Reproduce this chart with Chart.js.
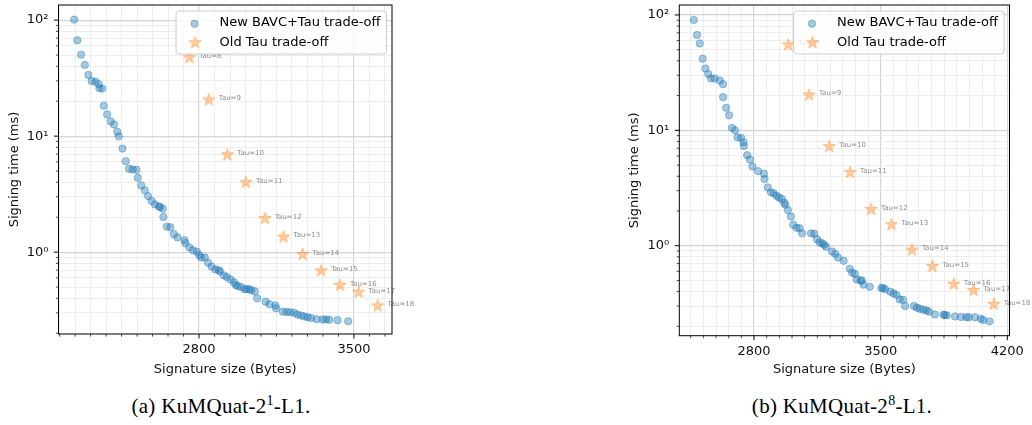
<!DOCTYPE html>
<html>
<head>
<meta charset="utf-8">
<script src="https://cdn.jsdelivr.net/npm/chart.js@4"></script>
<style>
  body { margin: 0; background: #fff; width: 1032px; height: 425px; position: relative; overflow: hidden; }
  .box { position: absolute; top: 0; height: 380px; }
  #boxA { left: 0; width: 420px; }
  #boxB { left: 620px; width: 412px; }
  .cap { position: absolute; top: 396px; width: 300px; text-align: center; line-height: 20px;
         font-family: "Liberation Serif", "DejaVu Serif", serif; font-size: 21px; letter-spacing: 0.3px; color: #000; }
  .cap sup { font-size: 0.66em; line-height: 0; vertical-align: 0.6em; }
</style>
</head>
<body>
<div class="box" id="boxA"><canvas id="chartA"></canvas></div>
<div class="box" id="boxB"><canvas id="chartB"></canvas></div>
<div class="cap" id="capA" style="left:71px"></div>
<div class="cap" id="capB" style="left:692px"></div>
<script>
const seriesNames = ['New BAVC+Tau trade-off', 'Old Tau trade-off'];
const tauLabels = [8, 9, 10, 11, 12, 13, 14, 15, 16, 17, 18];
const xTitle = 'Signature size (Bytes)';
const yTitle = 'Signing time (ms)';
const captionsText = [['(a) KuMQuat-2', '1', '-L1.'], ['(b) KuMQuat-2', '8', '-L1.']];

// panel (a)
const newXA = [2236, 2250, 2267, 2284, 2300, 2315, 2332, 2347, 2350, 2363, 2370, 2385, 2401, 2416, 2431, 2437,
  2454, 2469, 2484, 2500, 2517, 2523, 2539, 2555, 2570, 2586, 2601, 2618, 2624, 2636, 2639, 2654, 2670, 2686,
  2702, 2734, 2738, 2756, 2772, 2790, 2801, 2810, 2826, 2841, 2857, 2874, 2889, 2895, 2912, 2926, 2943, 2958,
  2966, 2975, 2990, 3005, 3015, 3026, 3036, 3052, 3063, 3101, 3118, 3145, 3148, 3179, 3196, 3211, 3229, 3244,
  3261, 3276, 3291, 3306, 3332, 3359, 3374, 3389, 3426, 3474];
const newYA = [101, 67, 50.4, 41.1, 33.7, 29.9, 29.4, 28.1, 25.9, 25.7, 18.3, 15.4, 13.4, 12.6, 10.9, 9.96,
  7.81, 6.08, 5.23, 5.16, 5.13, 4.38, 3.76, 3.41, 3.04, 2.76, 2.58, 2.48, 2.45, 2.37, 2.01, 1.66, 1.64, 1.43,
  1.34, 1.27, 1.20, 1.10, 1.04, 1.01, 0.94, 0.90, 0.90, 0.81, 0.75, 0.71, 0.70, 0.68, 0.63, 0.61, 0.58, 0.55,
  0.52, 0.51, 0.50, 0.48, 0.48, 0.48, 0.47, 0.46, 0.40, 0.374, 0.356, 0.348, 0.328, 0.307, 0.305, 0.304, 0.300, 0.290,
  0.284, 0.279, 0.275, 0.271, 0.264, 0.263, 0.263, 0.261, 0.259, 0.254];
const oldXA = [2756, 2844, 2928, 3012, 3098, 3182, 3268, 3352, 3437, 3521, 3607];
const oldYA = [47.5, 20.5, 6.9, 3.99, 1.95, 1.35, 0.955, 0.69, 0.518, 0.451, 0.344];
const xMajorA = [2800, 3500];

// panel (b)
const newXB = [2467, 2485, 2500, 2516, 2531, 2547, 2562, 2582, 2611, 2629, 2629, 2646, 2662, 2678, 2695, 2709,
  2729, 2742, 2744, 2762, 2777, 2791, 2823, 2855, 2858, 2876, 2894, 2909, 2924, 2938, 2953, 2967, 2973, 2987,
  3004, 3017, 3035, 3052, 3066, 3115, 3133, 3148, 3162, 3177, 3187, 3198, 3231, 3249, 3264, 3295, 3329, 3342,
  3358, 3367, 3389, 3396, 3405, 3440, 3504, 3513, 3524, 3553, 3571, 3587, 3605, 3624, 3635, 3684, 3700, 3717,
  3736, 3753, 3767, 3800, 3847, 3854, 3865, 3911, 3944, 3973, 3987, 4021, 4053, 4067, 4102];
const newYB = [90.6, 67.2, 56.6, 41.8, 34.4, 30.8, 28.2, 28.1, 27.0, 25.1, 19.4, 15.7, 13.5, 10.5, 10.0, 8.7,
  8.6, 7.88, 7.32, 6.09, 5.58, 4.86, 4.43, 4.20, 3.78, 3.20, 2.90, 2.84, 2.71, 2.62, 2.54, 2.36, 2.27, 2.04,
  1.79, 1.52, 1.43, 1.42, 1.28, 1.28, 1.27, 1.14, 1.07, 1.05, 1.02, 0.98, 0.89, 0.85, 0.79, 0.74, 0.63, 0.585,
  0.569, 0.51, 0.50, 0.50, 0.46, 0.44, 0.43, 0.43, 0.42, 0.40, 0.386, 0.375, 0.342, 0.34, 0.30, 0.30, 0.29, 0.284,
  0.279, 0.275, 0.268, 0.254, 0.253, 0.251, 0.249, 0.244, 0.241, 0.240, 0.240, 0.240, 0.233, 0.227, 0.221];
const oldXB = [2989, 3104, 3216, 3331, 3447, 3560, 3673, 3786, 3904, 4013, 4125];
const oldYB = [55.1, 20.2, 7.22, 4.31, 2.06, 1.52, 0.917, 0.66, 0.464, 0.41, 0.31];
const xMajorB = [2800, 3500, 4200];

const yDecades = [1, 10, 100];
const yDecadeLabels = ['10⁰', '10¹', '10²'];
const xMinorStep = 70;

const blueFill = 'rgba(31,119,180,0.4)';
const orangeFill = 'rgba(255,127,14,0.4)';
const FONT = '"DejaVu Sans", sans-serif';

function makeStar(r) {
  const s = Math.ceil(r * 2 + 4);
  const c = document.createElement('canvas');
  c.width = c.height = s;
  const g = c.getContext('2d');
  g.beginPath();
  for (let k = 0; k < 10; k++) {
    const rr = k % 2 ? r * 0.382 : r;
    const a = -Math.PI / 2 + k * Math.PI / 5;
    g.lineTo(s / 2 + rr * Math.cos(a), s / 2 + rr * Math.sin(a));
  }
  g.closePath();
  g.fillStyle = orangeFill;
  g.fill();
  g.lineWidth = 1;
  g.strokeStyle = orangeFill;
  g.stroke();
  return c;
}
const starImg = makeStar(6.5);

const decor = {
  id: 'decor',
  afterDatasetsDraw(chart, args, opts) {
    const {ctx, chartArea: a, scales: {x, y}} = chart;
    ctx.save();
    // tau annotations
    ctx.font = '7px ' + FONT;
    ctx.fillStyle = '#8c8c8c';
    ctx.textAlign = 'left';
    ctx.textBaseline = 'middle';
    opts.oldX.forEach((v, i) => {
      ctx.fillText('Tau=' + tauLabels[i], x.getPixelForValue(v) + 10, y.getPixelForValue(opts.oldY[i]) - 1.5);
    });
    // tick marks
    ctx.strokeStyle = '#000';
    x.ticks.forEach(t => {
      const px = x.getPixelForValue(t.value);
      const major = opts.xMajor.includes(t.value);
      ctx.lineWidth = major ? 1 : 0.7;
      ctx.beginPath();
      ctx.moveTo(px, a.bottom);
      ctx.lineTo(px, a.bottom + (major ? 4.5 : 2.6));
      ctx.stroke();
    });
    y.ticks.forEach(t => {
      const py = y.getPixelForValue(t.value);
      const major = yDecades.includes(t.value);
      ctx.lineWidth = major ? 1 : 0.7;
      ctx.beginPath();
      ctx.moveTo(a.left, py);
      ctx.lineTo(a.left - (major ? 4.5 : 2.6), py);
      ctx.stroke();
    });
    // frame
    ctx.lineWidth = 1;
    ctx.strokeRect(a.left, a.top, a.width, a.height);
    // legend
    ctx.font = '13px ' + FONT;
    const tw = Math.max(...seriesNames.map(s => ctx.measureText(s).width));
    const w = 43.5 + tw + 6, h = 43;
    const lx = a.right - 5.5 - w, ly = a.top + 6;
    ctx.beginPath();
    ctx.roundRect(lx, ly, w, h, 3);
    ctx.fillStyle = 'rgba(255,255,255,0.8)';
    ctx.fill();
    ctx.strokeStyle = '#cccccc';
    ctx.lineWidth = 1;
    ctx.stroke();
    ctx.beginPath();
    ctx.arc(lx + 18.5, ly + 12.7, 3.7, 0, Math.PI * 2);
    ctx.fillStyle = blueFill;
    ctx.fill();
    ctx.strokeStyle = blueFill;
    ctx.stroke();
    ctx.drawImage(starImg, lx + 19 - starImg.width / 2, ly + 31.7 - starImg.height / 2);
    ctx.fillStyle = '#000';
    ctx.textBaseline = 'middle';
    ctx.fillText(seriesNames[0], lx + 43.5, ly + 12);
    ctx.fillText(seriesNames[1], lx + 43.5, ly + 31.3);
    ctx.restore();
  }
};

function buildChart(id, p) {
  const isMajorX = v => p.xMajor.includes(v);
  new Chart(document.getElementById(id), {
    type: 'scatter',
    data: {
      datasets: [
        {
          label: seriesNames[1],
          data: p.oldX.map((v, i) => ({x: v, y: p.oldY[i]})),
          pointStyle: starImg,
          order: 0
        },
        {
          label: seriesNames[0],
          data: p.newX.map((v, i) => ({x: v, y: p.newY[i]})),
          backgroundColor: blueFill,
          borderColor: blueFill,
          borderWidth: 1,
          pointRadius: 3.7,
          order: 1
        }
      ]
    },
    options: {
      responsive: true,
      maintainAspectRatio: false,
      animation: false,
      events: [],
      layout: {padding: {left: 0, right: p.padRight, top: p.padTop, bottom: 0}},
      plugins: {legend: {display: false}, tooltip: {enabled: false}, decor: p},
      scales: {
        x: {
          type: 'linear',
          min: p.xMin, max: p.xMax,
          afterFit: s => { s.height = p.xAxisH; s.paddingLeft = 0; },
          afterBuildTicks: s => {
            const t = [];
            for (let v = Math.ceil(p.xMin / xMinorStep) * xMinorStep; v <= p.xMax; v += xMinorStep) t.push({value: v});
            s.ticks = t;
          },
          grid: {
            drawTicks: false,
            color: c => isMajorX(c.tick.value) ? '#d4d4d4' : '#ebebeb',
            lineWidth: c => isMajorX(c.tick.value) ? 1.2 : 0.9
          },
          border: {display: false},
          ticks: {
            autoSkip: false, maxRotation: 0, padding: 8, color: '#111',
            font: {family: FONT, size: 13},
            callback: v => isMajorX(v) ? String(v) : ''
          },
          title: {display: true, text: xTitle, color: '#111', font: {family: FONT, size: 13}, padding: {top: 0, bottom: 3}}
        },
        y: {
          type: 'logarithmic',
          min: p.yMin, max: p.yMax,
          afterFit: s => { s.width = p.yAxisW; s.paddingTop = 0; s.paddingBottom = 0; },
          afterBuildTicks: s => {
            const t = [];
            for (let e = -1; e <= 2; e++) {
              for (let m = 1; m <= 9; m++) {
                const v = Number((m * Math.pow(10, e)).toPrecision(3));
                if (v >= p.yMin && v <= p.yMax) t.push({value: v});
              }
            }
            s.ticks = t;
          },
          grid: {
            drawTicks: false,
            color: c => yDecades.includes(c.tick.value) ? '#d4d4d4' : '#ebebeb',
            lineWidth: c => yDecades.includes(c.tick.value) ? 1.2 : 0.9
          },
          border: {display: false},
          ticks: {
            autoSkip: false, padding: 10, color: '#111',
            font: {family: FONT, size: 13},
            callback: v => {
              const k = yDecades.indexOf(v);
              return k >= 0 ? yDecadeLabels[k] : '';
            }
          },
          title: {display: true, text: yTitle, color: '#111', font: {family: FONT, size: 13}, padding: {top: 6.5, bottom: 0}}
        }
      }
    },
    plugins: [decor]
  });
}

buildChart('chartA', {
  newX: newXA, newY: newYA, oldX: oldXA, oldY: oldYA, xMajor: xMajorA,
  xMin: 2165, xMax: 3672, yMin: 0.197, yMax: 135,
  yAxisW: 58.5, xAxisH: 46, padTop: 4, padRight: 28
});
buildChart('chartB', {
  newX: newXB, newY: newYB, oldX: oldXB, oldY: oldYB, xMajor: xMajorB,
  xMin: 2387, xMax: 4212, yMin: 0.166, yMax: 122,
  yAxisW: 59.3, xAxisH: 44.3, padTop: 3.3, padRight: 18
});

['capA', 'capB'].forEach((id, i) => {
  const [a, s, b] = captionsText[i];
  const el = document.getElementById(id);
  el.append(a);
  const sup = document.createElement('sup');
  sup.textContent = s;
  el.append(sup, b);
});
</script>
</body>
</html>
